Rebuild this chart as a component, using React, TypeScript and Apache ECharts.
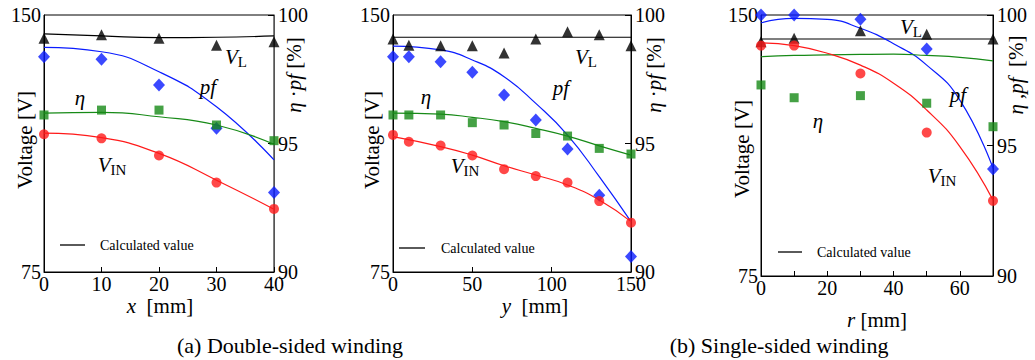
import React, { useEffect, useRef } from "react";
import * as echarts from "echarts";

const FONT = "Liberation Serif";

// Panel (a-1): x [mm]
const xMeas1 = [0, 10, 20, 30, 40];
const vlMeas1 = [143.2, 144.2, 143.2, 141.2, 142.2];
const pfMeas1 = [98.38, 98.28, 97.28, 95.59, 93.09];
const etaMeas1 = [96.11, 96.3, 96.3, 95.72, 95.11];
const vinMeas1 = [115.2, 114.0, 109.0, 101.1, 93.4];
const xCalc1 = [0, 10, 20, 30, 40];
const vlCalc1 = [144.5, 143.9, 143.4, 143.5, 143.9];
const pfCalc1 = [98.74, 98.57, 97.79, 96.43, 94.36];
const etaCalc1 = [96.18, 96.21, 96.04, 95.72, 94.97];
const vinCalc1 = [115.5, 114.2, 109.6, 101.8, 93.3];

// Panel (a-2): y [mm]
const xMeas2 = [0, 10, 30, 50, 70, 90, 110, 130, 150];
const vlMeas2 = [143.0, 141.2, 141.0, 141.0, 138.9, 143.0, 145.1, 144.2, 141.0];
const pfMeas2 = [98.38, 98.38, 98.18, 97.77, 96.89, 95.91, 94.79, 92.99, 90.6];
const etaMeas2 = [96.11, 96.11, 96.11, 95.81, 95.72, 95.39, 95.29, 94.81, 94.59];
const vinMeas2 = [115.0, 113.0, 111.9, 109.0, 105.0, 103.0, 101.1, 95.7, 89.4];
const xCalc2 = [0, 30, 50, 70, 90, 110, 130, 150];
const vlCalc2 = [143.5, 143.5, 143.5, 143.5, 143.5, 143.5, 143.5, 143.5];
const pfCalc2 = [98.79, 98.64, 98.25, 97.6, 96.56, 95.33, 93.71, 91.96];
const etaCalc2 = [96.18, 96.14, 96.02, 95.85, 95.59, 95.29, 94.91, 94.55];
const vinCalc2 = [114.5, 111.6, 109.1, 106.0, 103.3, 100.4, 96.0, 89.7];

// Panel (b): r [mm]
const xMeas3 = [0, 10, 30, 50, 70];
const vlMeas3 = [142.3, 143.3, 145.5, 144.5, 143.1];
const pfMeas3 = [100.0, 100.0, 99.84, 98.7, 94.1];
const etaMeas3 = [97.32, 96.83, 96.91, 96.62, 95.72];
const vinMeas3 = [141.2, 141.2, 133.2, 116.2, 96.6];
const xCalc3 = [0, 10, 20, 30, 40, 50, 60, 70];
const vlCalc3 = [143.1, 143.1, 143.1, 143.1, 143.1, 143.1, 143.1, 143.1];
const pfCalc3 = [99.7, 99.87, 99.83, 99.49, 98.9, 98.08, 96.74, 94.13];
const etaCalc3 = [98.4, 98.45, 98.47, 98.49, 98.5, 98.45, 98.38, 98.24];
const vinCalc3 = [142.0, 141.2, 139.0, 135.6, 130.4, 122.7, 112.2, 96.8];

const xMax = [40, 150, 70];
const xInterval = [10, 50, 10];
const voltTicks = [75, 150];
const pctTicks = [90, 95, 100];

const panels = [
  { xm: xMeas1, vl: vlMeas1, pf: pfMeas1, eta: etaMeas1, vin: vinMeas1, xc: xCalc1, vlc: vlCalc1, pfc: pfCalc1, etac: etaCalc1, vinc: vinCalc1 },
  { xm: xMeas2, vl: vlMeas2, pf: pfMeas2, eta: etaMeas2, vin: vinMeas2, xc: xCalc2, vlc: vlCalc2, pfc: pfCalc2, etac: etaCalc2, vinc: vinCalc2 },
  { xm: xMeas3, vl: vlMeas3, pf: pfMeas3, eta: etaMeas3, vin: vinMeas3, xc: xCalc3, vlc: vlCalc3, pfc: pfCalc3, etac: etaCalc3, vinc: vinCalc3 },
];

const BLUE = "#0a1cff";
const RED = "#ff1a1a";
const GREEN = "#178a17";
const BLACK = "#000000";

const zip = (a: number[], b: number[]) => a.map((v, i) => [v, b[i]]);

export default function App() {
  const ref = useRef<HTMLDivElement>(null);
  useEffect(() => {
    document.body.style.margin = "0";
    const chart = echarts.init(ref.current!, null, { renderer: "svg" });

    const grids = [
      { left: 44, top: 15, width: 230, height: 257 },
      { left: 393, top: 15, width: 238, height: 257 },
      { left: 761, top: 15, width: 232, height: 261 },
    ].map((g) => ({ ...g, show: true, borderColor: "#000", borderWidth: 1 }));

    const tickRich = { t: { fontFamily: FONT, fontSize: 20, color: "#000" } };

    const xAxes = [0, 1, 2].map((i) => ({
      type: "value",
      gridIndex: i,
      min: 0,
      max: xMax[i],
      interval: xInterval[i],
      axisLine: { lineStyle: { color: "#000", width: 1 } },
      axisTick: { inside: true, length: 5, lineStyle: { color: "#000" } },
      splitLine: { show: false },
      axisLabel: {
        fontFamily: FONT,
        fontSize: 20,
        color: "#000",
        margin: 2,
        rich: tickRich,
        formatter: (v: number) => (i === 2 && (v % 20 !== 0 || v === 70) ? "" : `{t|${v}}`),
      },
    }));

    const yAxes: any[] = [];
    [0, 1, 2].forEach((i) => {
      yAxes.push({
        type: "value",
        gridIndex: i,
        position: "left",
        min: voltTicks[0],
        max: voltTicks[1],
        interval: 75,
        axisLine: { show: true, lineStyle: { color: "#000" } },
        axisTick: { show: false },
        splitLine: { show: false },
        axisLabel: { fontFamily: FONT, fontSize: 20, color: "#000", margin: 3, rich: tickRich, formatter: (v: number) => `{t|${v}}` },
      });
      yAxes.push({
        type: "value",
        gridIndex: i,
        position: "right",
        min: pctTicks[0],
        max: pctTicks[2],
        interval: 5,
        axisLine: { show: true, lineStyle: { color: i === 0 ? "#555" : "#000" } },
        axisTick: { inside: true, length: 6, lineStyle: { color: "#000" } },
        splitLine: { show: false },
        axisLabel: { fontFamily: FONT, fontSize: 20, color: "#000", margin: 4, rich: tickRich, formatter: (v: number) => `{t|${v}}` },
      });
    });

    const series: any[] = [];
    panels.forEach((p, i) => {
      const lineBase = {
        type: "line",
        xAxisIndex: i,
        showSymbol: false,
        smooth: true,
        clip: false,
        z: 2,
      };
      series.push({ ...lineBase, yAxisIndex: 2 * i, data: zip(p.xc, p.vlc), lineStyle: { color: BLACK, width: 1.2 } });
      series.push({ ...lineBase, yAxisIndex: 2 * i + 1, data: zip(p.xc, p.pfc), lineStyle: { color: BLUE, width: 1.2 } });
      series.push({ ...lineBase, yAxisIndex: 2 * i + 1, data: zip(p.xc, p.etac), lineStyle: { color: GREEN, width: 1.2 } });
      series.push({ ...lineBase, yAxisIndex: 2 * i, data: zip(p.xc, p.vinc), lineStyle: { color: RED, width: 1.2 } });

      const sc = { type: "scatter", xAxisIndex: i, clip: false, z: 3 };
      series.push({ ...sc, yAxisIndex: 2 * i, symbol: "triangle", symbolSize: 11, itemStyle: { color: BLACK }, data: zip(p.xm, p.vl) });
      series.push({ ...sc, yAxisIndex: 2 * i + 1, symbol: "diamond", symbolSize: [12, 13], itemStyle: { color: BLUE }, data: zip(p.xm, p.pf) });
      series.push({ ...sc, yAxisIndex: 2 * i + 1, symbol: "rect", symbolSize: 9, itemStyle: { color: GREEN }, data: zip(p.xm, p.eta) });
      series.push({ ...sc, yAxisIndex: 2 * i, symbol: "circle", symbolSize: 10, itemStyle: { color: RED }, data: zip(p.xm, p.vin) });
    });

    const rich = {
      n: { fontFamily: FONT, fontSize: 21, fill: "#000" },
      i: { fontFamily: FONT, fontSize: 21, fontStyle: "italic", fill: "#000" },
      c: { fontFamily: FONT, fontSize: 14, fill: "#000" },
      cap: { fontFamily: FONT, fontSize: 22, fill: "#000" },
      s: { fontFamily: FONT, fontSize: 15, fill: "#000", padding: [9, 0, 0, 0] },
    };

    const txt = (x: number, y: number, text: string, opts: any = {}) => ({
      type: "text",
      x,
      y,
      rotation: opts.rotation || 0,
      style: {
        text,
        fontFamily: FONT,
        fontSize: 21,
        fill: "#000",
        align: opts.align || "center",
        verticalAlign: "middle",
        rich,
      },
      z: 10,
    });

    const graphic: any[] = [
      txt(25, 140, "{n|Voltage [V]}", { rotation: Math.PI / 2 }),
      txt(372, 140, "{n|Voltage [V]}", { rotation: Math.PI / 2 }),
      txt(742, 149, "{n|Voltage [V]}", { rotation: Math.PI / 2 }),
      txt(294, 75, "{i|η} {n|·}{i|pf} {n|[%]}", { rotation: Math.PI / 2 }),
      txt(654, 75, "{i|η} {n|·}{i|pf} {n|[%]}", { rotation: Math.PI / 2 }),
      txt(1016, 75, "{i|η} {n|,}{i|pf}  {n|[%]}", { rotation: Math.PI / 2 }),
      txt(160, 306, "{i|x}  {n|[mm]}"),
      txt(535, 306, "{i|y}  {n|[mm]}"),
      txt(877, 320, "{i|r} {n|[mm]}"),
      txt(290, 345, "{cap|(a) Double-sided winding}"),
      txt(779, 345, "{cap|(b) Single-sided winding}"),
      txt(236, 57, "{i|V}{s|L}"),
      txt(208, 87, "{i|pf}"),
      txt(80, 98, "{i|η}"),
      txt(112, 165, "{i|V}{s|IN}"),
      txt(586, 57, "{i|V}{s|L}"),
      txt(561, 88, "{i|pf}"),
      txt(426, 97, "{i|η}"),
      txt(465, 166, "{i|V}{s|IN}"),
      txt(911, 27, "{i|V}{s|L}"),
      txt(958, 95, "{i|pf}"),
      txt(818, 121, "{i|η}"),
      txt(942, 176, "{i|V}{s|IN}"),
    ];

    const legendPos = [
      [60, 85, 245, 100],
      [399, 425, 248, 441],
      [778, 802, 252, 817],
    ];
    legendPos.forEach(([x1, x2, y, tx]) => {
      graphic.push({ type: "line", shape: { x1, y1: y, x2, y2: y }, style: { stroke: "#000", lineWidth: 1.3 }, z: 10 });
      graphic.push(txt(tx, y, "{c|Calculated value}", { align: "left" }));
    });

    chart.setOption({
      animation: false,
      backgroundColor: "#fff",
      grid: grids,
      xAxis: xAxes,
      yAxis: yAxes,
      series,
      graphic,
    });
    return () => chart.dispose();
  }, []);
  return <div ref={ref} style={{ width: 1035, height: 360 }} />;
}
